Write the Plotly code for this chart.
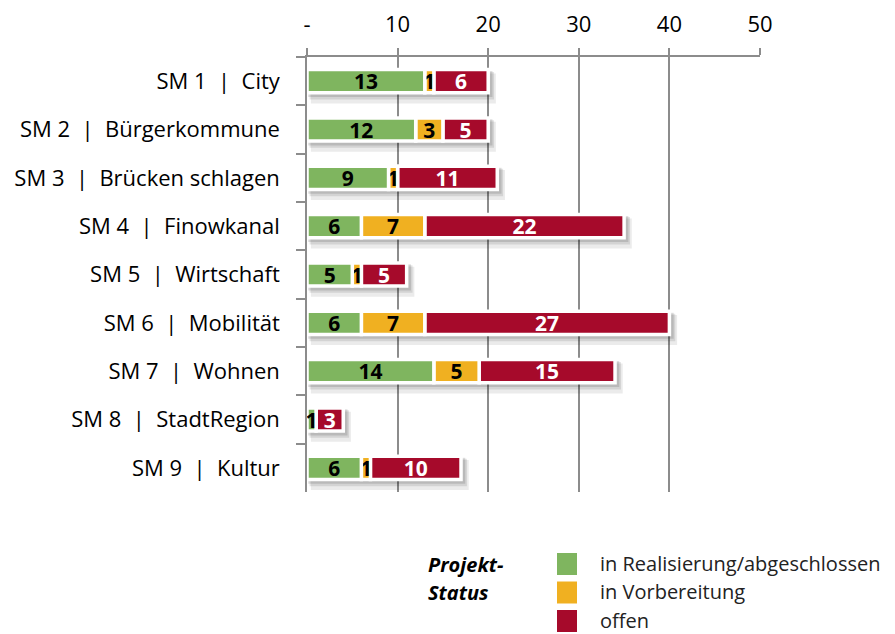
import plotly.graph_objects as go

categories = ["SM 1 | City", "SM 2 | Bürgerkommune", "SM 3 | Brücken schlagen",
              "SM 4 | Finowkanal", "SM 5 | Wirtschaft", "SM 6 | Mobilität",
              "SM 7 | Wohnen", "SM 8 | StadtRegion", "SM 9 | Kultur"]
realisiert = [13, 12, 9, 6, 5, 6, 14, 1, 6]
vorbereitung = [1, 3, 1, 7, 1, 7, 5, 0, 1]
offen = [6, 5, 11, 22, 5, 27, 15, 3, 10]
series_names = ["in Realisierung/abgeschlossen", "in Vorbereitung", "offen"]
tick_vals = [0, 10, 20, 30, 40, 50]
tick_text = ["-", "10", "20", "30", "40", "50"]

GREEN = "#7fb55f"
ORANGE = "#f0b021"
RED = "#a60a2b"
FONT = "Open Sans"

OFF = 8  # page body margin
W, H = 895 - OFF, 634 - OFF
L, R, T, B = 307 - OFF, 135, 57 - OFF, 142
PW, PH = W - L - R, H - T - B

def px(x):
    return (x - OFF - L) / PW

def py(y):
    return (H - B - (y - OFF)) / PH

labels = [c.replace(" | ", "\u00a0\u00a0|\u00a0\u00a0") for c in categories]
totals = [a + b + c for a, b, c in zip(realisiert, vorbereitung, offen)]
base_v = realisiert
base_o = [a + b for a, b in zip(realisiert, vorbereitung)]

fig = go.Figure()

# soft drop shadows
for dx, dy, extra, alpha in [(0.6, 0.11, 0.08, 0.08), (0.45, 0.08, 0.03, 0.10), (0.3, 0.06, 0.0, 0.12)]:
    fig.add_trace(go.Bar(
        y=labels, x=[t + 0.34 + extra for t in totals],
        base=[-0.17 + dx] * len(totals), orientation="h",
        width=0.54 + extra, offset=-0.27 + dy,
        marker=dict(color=f"rgba(0,0,0,{alpha})", line=dict(width=0)),
        hoverinfo="skip", showlegend=False))

def seg(vals, base, color, name, txtcolor):
    fig.add_trace(go.Bar(
        y=labels, x=vals, base=base, orientation="h", name=name,
        width=0.48, offset=-0.24,
        marker=dict(color=color, line=dict(color="white", width=3.5)),
        text=[str(v) if v else "" for v in vals],
        textposition="inside", insidetextanchor="middle", textangle=0,
        constraintext="none",
        textfont=dict(family=FONT, size=21, color=txtcolor, weight="bold"),
        showlegend=False))

seg(offen, base_o, RED, series_names[2], "white")
seg(vorbereitung, base_v, ORANGE, series_names[1], "black")
seg(realisiert, [0] * len(realisiert), GREEN, series_names[0], "black")

fig.update_layout(
    width=W, height=H, barmode="overlay",
    margin=dict(l=L, r=R, t=T, b=B, autoexpand=False),
    paper_bgcolor="white", plot_bgcolor="white",
    font=dict(family=FONT, size=20, color="black"),
    xaxis=dict(side="top", range=[0, 50], tickvals=tick_vals, ticktext=tick_text,
               showgrid=True, gridcolor="#8c8c8c", gridwidth=1.5,
               showline=True, linecolor="#8c8c8c", linewidth=1.5,
               ticks="outside", ticklen=7, tickcolor="#8c8c8c", tickwidth=1.5,
               ticklabelstandoff=7, zeroline=False,
               tickfont=dict(family=FONT, size=22, color="black")),
    yaxis=dict(autorange="reversed", type="category",
               showline=True, linecolor="#8c8c8c", linewidth=1.5,
               ticks="outside", ticklen=9, tickcolor="#8c8c8c", tickwidth=1.5,
               tickson="boundaries", ticklabelstandoff=21,
               showgrid=False, tickfont=dict(family=FONT, size=22, color="black")),
)

# custom legend
fig.add_annotation(x=px(426), y=py(564), xref="paper", yref="paper", xanchor="left",
                   yanchor="middle", showarrow=False, align="left",
                   text="<b><i>Projekt-</i></b>",
                   font=dict(family=FONT, size=20, color="black"))
fig.add_annotation(x=px(426), y=py(592), xref="paper", yref="paper", xanchor="left",
                   yanchor="middle", showarrow=False, align="left",
                   text="<b><i>Status</i></b>",
                   font=dict(family=FONT, size=20, color="black"))
for i, (name, col) in enumerate(zip(series_names, [GREEN, ORANGE, RED])):
    yc = 564 + i * 28.5
    fig.add_shape(type="rect", xref="paper", yref="paper",
                  x0=px(557), x1=px(577), y0=py(yc - 11), y1=py(yc + 11),
                  fillcolor=col, line=dict(width=0))
    fig.add_annotation(x=px(598), y=py(yc - 1), xref="paper", yref="paper",
                       xanchor="left", yanchor="middle", showarrow=False,
                       text=name, font=dict(family=FONT, size=20, color="#222"))

fig.write_html("out.html")
